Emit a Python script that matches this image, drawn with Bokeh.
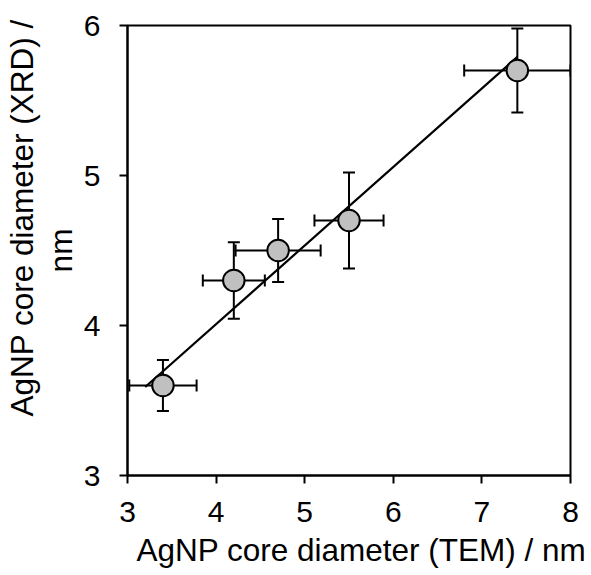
from bokeh.plotting import figure
from bokeh.models import ColumnDataSource, FixedTicker, Range1d, Title
from bokeh.embed import file_html
from bokeh.resources import INLINE
import numpy as np

# Data
tem_nm = [3.4, 4.2, 4.7, 5.5, 7.4]
xrd_nm = [3.6, 4.3, 4.5, 4.7, 5.7]
tem_err = [0.38, 0.35, 0.48, 0.39, 0.60]
xrd_err = [0.17, 0.255, 0.21, 0.32, 0.28]
fit_slope = 0.524
fit_intercept = 1.913
fit_x_range = [3.2, 7.4]
x_ticks = [3, 4, 5, 6, 7, 8]
y_ticks = [3, 4, 5, 6]
x_title = "AgNP core diameter (TEM) / nm"
y_title_lines = ["AgNP core diameter (XRD) /", "nm"]

FONT = "Liberation Sans"

x = np.array(tem_nm)
y = np.array(xrd_nm)
ex = np.array(tem_err)
ey = np.array(xrd_err)

src = ColumnDataSource(dict(
    x=x, y=y,
    xlo=x - ex, xhi=x + ex,
    ylo=y - ey, yhi=y + ey,
))
fx = np.array(fit_x_range)
fit_src = ColumnDataSource(dict(x=fx, y=fit_slope * fx + fit_intercept))

p = figure(width=591, height=575, output_backend="svg", toolbar_location=None,
           x_range=Range1d(3, 8), y_range=Range1d(3, 6),
           frame_width=443, frame_height=450,
           min_border_left=127, min_border_right=21,
           min_border_top=25, min_border_bottom=100)

p.background_fill_color = "white"
p.border_fill_color = "white"
p.grid.visible = False
p.outline_line_color = "black"
p.outline_line_width = 2
p.outline_line_alpha = 1

# fit line
p.line("x", "y", source=fit_src, line_color="black", line_width=2.2)

# error bars
p.segment("xlo", "y", "xhi", "y", source=src, line_color="black", line_width=2)
p.segment("x", "ylo", "x", "yhi", source=src, line_color="black", line_width=2)
p.scatter("x", "ylo", source=src, marker="dash", size=12, line_color="black", line_width=2)
p.scatter("x", "yhi", source=src, marker="dash", size=12, line_color="black", line_width=2)
p.scatter("xlo", "y", source=src, marker="dash", size=12, angle=np.pi / 2,
          line_color="black", line_width=2)
p.scatter("xhi", "y", source=src, marker="dash", size=12, angle=np.pi / 2,
          line_color="black", line_width=2)

# points
p.scatter("x", "y", source=src, marker="circle", size=21.5,
          fill_color="#c0c0c0", line_color="black", line_width=2)

for ax, ticks in ((p.xaxis[0], x_ticks), (p.yaxis[0], y_ticks)):
    ax.ticker = FixedTicker(ticks=ticks)
    ax.minor_tick_line_color = None
    ax.major_tick_in = 0
    ax.major_tick_out = 8
    ax.major_tick_line_width = 2
    ax.major_tick_line_color = "black"
    ax.axis_line_width = 2
    ax.axis_line_color = "black"
    ax.major_label_text_font = FONT
    ax.major_label_text_font_size = "30px"
    ax.major_label_text_color = "black"
    ax.axis_label_text_font = FONT
    ax.axis_label_text_font_size = "31.5px"
    ax.axis_label_text_font_style = "normal"
    ax.axis_label_text_color = "black"

p.xaxis.major_label_standoff = 18
p.yaxis.major_label_standoff = 19

# y title: second line as the axis label, first line as a title outside it
p.yaxis.axis_label = y_title_lines[1]
p.yaxis.axis_label_standoff = 2
p.add_layout(Title(text=y_title_lines[0], align="left", offset=59,
                   text_font=FONT, text_font_size="31.5px", text_font_style="normal",
                   text_color="black", standoff=0), "left")

# x title
p.add_layout(Title(text=x_title, align="left", offset=9,
                   text_font=FONT, text_font_size="31.5px", text_font_style="normal",
                   text_color="black", standoff=11), "below")

open("out.html", "w").write(file_html(p, INLINE))
